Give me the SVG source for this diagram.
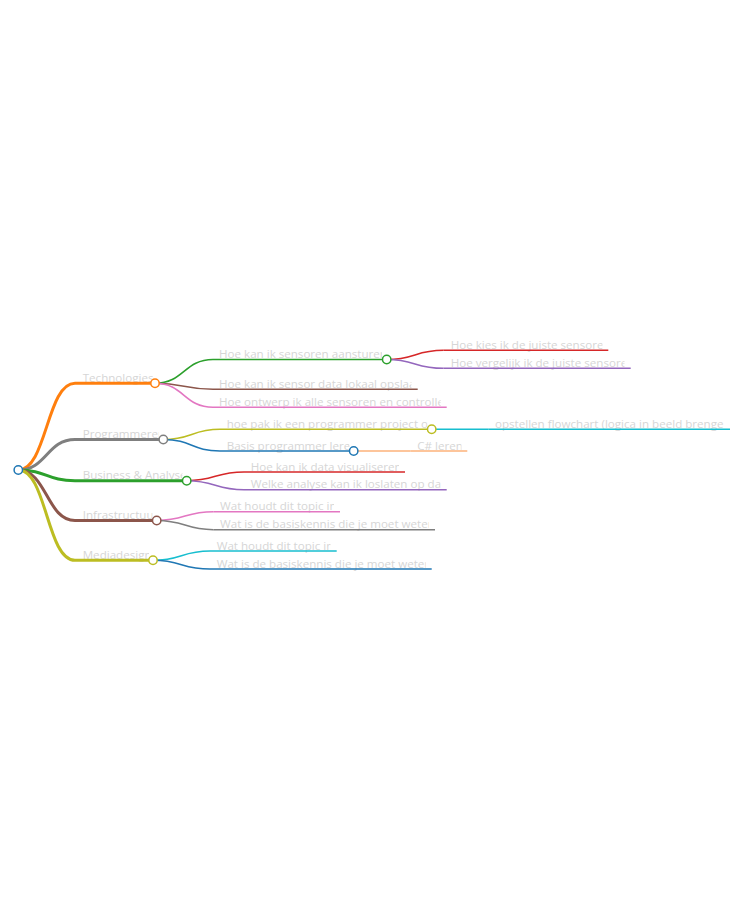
<svg xmlns="http://www.w3.org/2000/svg" width="748" height="906" viewBox="0 0 748 906">
<style>
text{font-family:"Open Sans","Noto Sans","Liberation Sans",sans-serif;font-size:11.6px;fill:#d6d6d6}
.l1{stroke-width:3;fill:none}
.l2{stroke-width:1.6;fill:none}
.c{fill:#fff;stroke-width:1.5}
</style>
<defs>
<clipPath id="k1"><rect x="78" y="368" width="75" height="17"/></clipPath>
<clipPath id="k2"><rect x="78" y="424" width="81" height="17"/></clipPath>
<clipPath id="k3"><rect x="78" y="465" width="104.5" height="17"/></clipPath>
<clipPath id="k4"><rect x="78" y="505" width="74.5" height="17"/></clipPath>
<clipPath id="k5"><rect x="78" y="545" width="71" height="17"/></clipPath>
<clipPath id="k6"><rect x="215" y="344" width="167" height="17"/></clipPath>
<clipPath id="k7"><rect x="215" y="374" width="196.5" height="17"/></clipPath>
<clipPath id="k8"><rect x="215" y="392" width="225.7" height="17"/></clipPath>
<clipPath id="k9"><rect x="446" y="335" width="156.5" height="17"/></clipPath>
<clipPath id="k10"><rect x="446" y="353" width="178.5" height="17"/></clipPath>
<clipPath id="k11"><rect x="222" y="414" width="205.5" height="17"/></clipPath>
<clipPath id="k12"><rect x="490" y="414" width="234" height="17"/></clipPath>
<clipPath id="k13"><rect x="222" y="436" width="127.5" height="17"/></clipPath>
<clipPath id="k14"><rect x="413" y="436" width="48.5" height="17"/></clipPath>
<clipPath id="k15"><rect x="246" y="457" width="153" height="17"/></clipPath>
<clipPath id="k16"><rect x="246" y="474" width="194.7" height="17"/></clipPath>
<clipPath id="k17"><rect x="216" y="496" width="118" height="17"/></clipPath>
<clipPath id="k18"><rect x="216" y="514" width="213" height="17"/></clipPath>
<clipPath id="k19"><rect x="212" y="536" width="118.5" height="17"/></clipPath>
<clipPath id="k20"><rect x="212" y="554" width="213.7" height="17"/></clipPath>
</defs>
<g id="connectors">
<path class="l1" stroke="#ff7f0e" d="M18.3,470 C46.7,470 46.7,383.3 75,383.3"/>
<path class="l1" stroke="#7f7f7f" d="M18.3,470 C46.7,470 46.7,439.5 75,439.5"/>
<path class="l1" stroke="#2ca02c" d="M18.3,470 C46.7,470 46.7,480.7 75,480.7"/>
<path class="l1" stroke="#8c564b" d="M18.3,470 C46.7,470 46.7,520.5 75,520.5"/>
<path class="l1" stroke="#bcbd22" d="M18.3,470 C46.7,470 46.7,560.3 75,560.3"/>
<path class="l2" stroke="#2ca02c" d="M155,383.3 C184,383.3 184,359.5 213,359.5"/>
<path class="l2" stroke="#8c564b" d="M155,383.3 C184,383.3 184,389.3 213,389.3"/>
<path class="l2" stroke="#e377c2" d="M155,383.3 C184,383.3 184,407.3 213,407.3"/>
<path class="l2" stroke="#d62728" d="M386.7,359.5 C415,359.5 415,350.3 443.3,350.3"/>
<path class="l2" stroke="#9467bd" d="M386.7,359.5 C415,359.5 415,368.3 443.3,368.3"/>
<path class="l2" stroke="#bcbd22" d="M163.3,439.5 C191.7,439.5 191.7,429.3 220,429.3"/>
<path class="l2" stroke="#1f77b4" d="M163.3,439.5 C191.7,439.5 191.7,451 220,451"/>
<path class="l2" stroke="#17becf" d="M431.7,429.3 L488.3,429.3"/>
<path class="l2" stroke="#fdb27a" d="M353.7,451 L410.7,451"/>
<path class="l2" stroke="#d62728" d="M186.7,480.7 C215.3,480.7 215.3,472 244,472"/>
<path class="l2" stroke="#9467bd" d="M186.7,480.7 C215.3,480.7 215.3,489.7 244,489.7"/>
<path class="l2" stroke="#e377c2" d="M156.7,520.5 C185,520.5 185,511.7 213.3,511.7"/>
<path class="l2" stroke="#7f7f7f" d="M156.7,520.5 C185,520.5 185,529.7 213.3,529.7"/>
<path class="l2" stroke="#17becf" d="M153,560.3 C181.5,560.3 181.5,551 210,551"/>
<path class="l2" stroke="#1f77b4" d="M153,560.3 C181.5,560.3 181.5,569 210,569"/>
</g>
<g id="n-technologies">
<text x="82.7" y="381.8" clip-path="url(#k1)">Technologies</text>
<path class="l1" stroke="#ff7f0e" d="M75,383.3 H155"/>
<circle class="c" stroke="#ff7f0e" cx="155" cy="383.3" r="4.2"/>
</g>
<g id="n-programmeren">
<text x="82.7" y="438" clip-path="url(#k2)">Programmeren</text>
<path class="l1" stroke="#7f7f7f" d="M75,439.5 H163.3"/>
<circle class="c" stroke="#7f7f7f" cx="163.3" cy="439.5" r="4.2"/>
</g>
<g id="n-business">
<text x="82.7" y="479.2" clip-path="url(#k3)">Business &amp; Analyse</text>
<path class="l1" stroke="#2ca02c" d="M75,480.7 H186.7"/>
<circle class="c" stroke="#2ca02c" cx="186.7" cy="480.7" r="4.2"/>
</g>
<g id="n-infrastructuur">
<text x="82.7" y="519" clip-path="url(#k4)">Infrastructuur</text>
<path class="l1" stroke="#8c564b" d="M75,520.5 H156.7"/>
<circle class="c" stroke="#8c564b" cx="156.7" cy="520.5" r="4.2"/>
</g>
<g id="n-mediadesign">
<text x="82.7" y="558.8" clip-path="url(#k5)">Mediadesign</text>
<path class="l1" stroke="#bcbd22" d="M75,560.3 H153"/>
<circle class="c" stroke="#bcbd22" cx="153" cy="560.3" r="4.2"/>
</g>
<g id="n-aansturen">
<text x="219" y="358" clip-path="url(#k6)">Hoe kan ik sensoren aansturen</text>
<path class="l2" stroke="#2ca02c" d="M213,359.5 H386.7"/>
<circle class="c" stroke="#2ca02c" cx="386.7" cy="359.5" r="4.2"/>
</g>
<g id="n-opslaan">
<text x="219" y="387.8" clip-path="url(#k7)">Hoe kan ik sensor data lokaal opslaa</text>
<path class="l2" stroke="#8c564b" d="M213,389.3 H417.7"/>
</g>
<g id="n-ontwerp">
<text x="219" y="405.8" clip-path="url(#k8)">Hoe ontwerp ik alle sensoren en controlle</text>
<path class="l2" stroke="#e377c2" d="M213,407.3 H446.7"/>
</g>
<g id="n-kies">
<text x="450.7" y="348.8" clip-path="url(#k9)">Hoe kies ik de juiste sensore</text>
<path class="l2" stroke="#d62728" d="M443.3,350.3 H608.3"/>
</g>
<g id="n-vergelijk">
<text x="450.7" y="366.8" clip-path="url(#k10)">Hoe vergelijk ik de juiste sensore</text>
<path class="l2" stroke="#9467bd" d="M443.3,368.3 H630.7"/>
</g>
<g id="n-hoepak">
<text x="226.7" y="427.8" clip-path="url(#k11)">hoe pak ik een programmer project op</text>
<path class="l2" stroke="#bcbd22" d="M220,429.3 H431.7"/>
<circle class="c" stroke="#bcbd22" cx="431.7" cy="429.3" r="4.2"/>
</g>
<g id="n-flowchart">
<text x="495" y="427.8" clip-path="url(#k12)">opstellen flowchart (logica in beeld brenge</text>
<path class="l2" stroke="#17becf" d="M488.3,429.3 H730"/>
</g>
<g id="n-basis">
<text x="226.7" y="449.5" clip-path="url(#k13)">Basis programmer leren</text>
<path class="l2" stroke="#1f77b4" d="M220,451 H353.7"/>
<circle class="c" stroke="#1f77b4" cx="353.7" cy="451" r="4.2"/>
</g>
<g id="n-csharp">
<text x="417.3" y="449.5" clip-path="url(#k14)">C# leren</text>
<path class="l2" stroke="#fdb27a" d="M410.7,451 H467.3"/>
</g>
<g id="n-visualiseren">
<text x="250.7" y="470.5" clip-path="url(#k15)">Hoe kan ik data visualiseren</text>
<path class="l2" stroke="#d62728" d="M244,472 H405"/>
</g>
<g id="n-analyse">
<text x="250.7" y="488.2" clip-path="url(#k16)">Welke analyse kan ik loslaten op data</text>
<path class="l2" stroke="#9467bd" d="M244,489.7 H446.7"/>
</g>
<g id="n-infra-topic">
<text x="220" y="510.2" clip-path="url(#k17)">Wat houdt dit topic in</text>
<path class="l2" stroke="#e377c2" d="M213.3,511.7 H340"/>
</g>
<g id="n-infra-basis">
<text x="220" y="528.2" clip-path="url(#k18)">Wat is de basiskennis die je moet weten</text>
<path class="l2" stroke="#7f7f7f" d="M213.3,529.7 H435"/>
</g>
<g id="n-media-topic">
<text x="216.7" y="549.5" clip-path="url(#k19)">Wat houdt dit topic in</text>
<path class="l2" stroke="#17becf" d="M210,551 H336.7"/>
</g>
<g id="n-media-basis">
<text x="216.7" y="567.5" clip-path="url(#k20)">Wat is de basiskennis die je moet weten</text>
<path class="l2" stroke="#1f77b4" d="M210,569 H431.7"/>
</g>
<g id="n-root">
<circle class="c" stroke="#1f77b4" cx="18.3" cy="470" r="4.2"/>
</g>
</svg>
